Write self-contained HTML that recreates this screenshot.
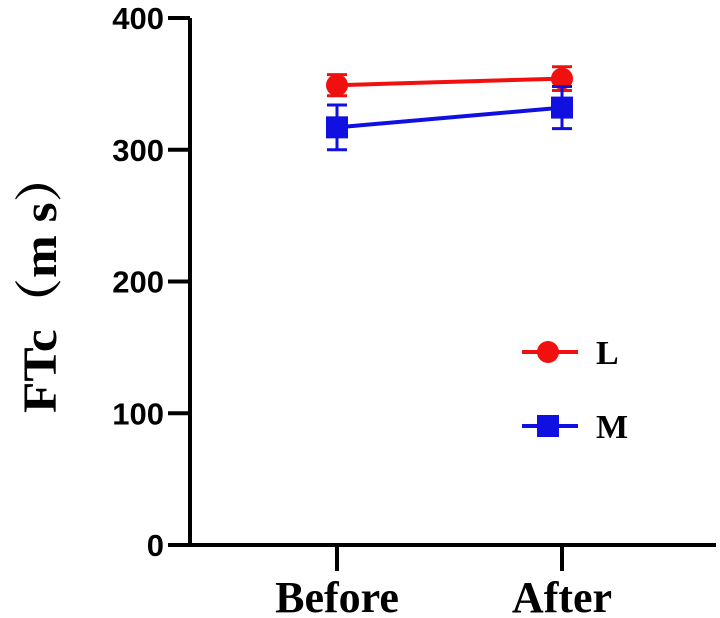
<!DOCTYPE html>
<html><head><meta charset="utf-8"><style>
body{margin:0;background:#fff}
svg{display:block}
.tick{font:bold 31px "Liberation Sans",sans-serif}
.cat{font:bold 44px "Liberation Serif",serif}
</style></head><body>
<svg id="chart" width="720" height="618" viewBox="0 0 720 618"></svg>
<script>
const categories=["Before","After"];
const seriesNames=["L","M"];
const valuesL=[349,354];
const errL=[8,9];
const valuesM=[317,332];
const errM=[17,16];
const yTicks=[0,100,200,300,400];

const NS="http://www.w3.org/2000/svg";
const svg=document.getElementById('chart');
function y(v){return 545-v*(527/400);}
function x(i){return [337,562][i];}
function mk(t,a,p){const e=document.createElementNS(NS,t);for(const k in a)e.setAttribute(k,a[k]);(p||svg).appendChild(e);return e;}

let g=mk('g',{});


mk('line',{x1:190,y1:y(400),x2:190,y2:y(0),stroke:'#000','stroke-width':4},g);
yTicks.forEach(t=>{
  mk('line',{x1:168,y1:y(t),x2:190,y2:y(t),stroke:'#000','stroke-width':4},g);
  const tx=mk('text',{x:164,y:y(t)+11,'text-anchor':'end',class:'tick'},g);
  tx.textContent=t;
  
  
});
let gx=mk('g',{});


mk('line',{x1:168,y1:y(0),x2:716,y2:y(0),stroke:'#000','stroke-width':4},gx);
categories.forEach((c,i)=>{
  mk('line',{x1:x(i),y1:y(0),x2:x(i),y2:y(0)+26,stroke:'#000','stroke-width':4},gx);
  const tx=mk('text',{x:x(i),y:612,'text-anchor':'middle',class:'cat'},gx);
  tx.textContent=c;
  
  
});
const yl=mk('text',{x:0,y:0,transform:'translate(56,282) rotate(-90)','text-anchor':'middle',textLength:262,lengthAdjust:'spacingAndGlyphs',style:'font:bold 48px "Liberation Serif","Noto Serif CJK SC",serif'});
yl.textContent='FTc（m s）';



function series(vals,errs,color,name,shape){
  const sg=mk('g',{});
  
  
  mk('polyline',{points:vals.map((v,i)=>x(i)+','+y(v)).join(' '),fill:'none',stroke:color,'stroke-width':4},sg);
  vals.forEach((v,i)=>{
    const cx=x(i),lo=y(v-errs[i]),hi=y(v+errs[i]);
    mk('line',{x1:cx,y1:lo,x2:cx,y2:hi,stroke:color,'stroke-width':3},sg);
    mk('line',{x1:cx-10,y1:lo,x2:cx+10,y2:lo,stroke:color,'stroke-width':3},sg);
    mk('line',{x1:cx-10,y1:hi,x2:cx+10,y2:hi,stroke:color,'stroke-width':3},sg);
    let m;
    if(shape==='c')m=mk('circle',{cx:cx,cy:y(v),r:11,fill:color},sg);
    else m=mk('rect',{x:cx-11,y:y(v)-11,width:22,height:22,fill:color},sg);
    
    
  });
}
series(valuesL,errL,'#f01010','l','c');
series(valuesM,errM,'#1010e0','m','s');

function legend(ly,color,label,shape){
  const lg=mk('g',{});
  
  
  mk('line',{x1:522,y1:ly,x2:578,y2:ly,stroke:color,'stroke-width':4},lg);
  if(shape==='c')mk('circle',{cx:548,cy:ly,r:11,fill:color},lg);
  else mk('rect',{x:537,y:ly-11,width:22,height:22,fill:color},lg);
  const t=mk('text',{x:596,y:ly+12,style:'font:bold 34px "Liberation Serif",serif'},lg);
  t.textContent=label;
}
legend(352,'#f01010',seriesNames[0],'c');
legend(426,'#1010e0',seriesNames[1],'s');
</script>
</body></html>
